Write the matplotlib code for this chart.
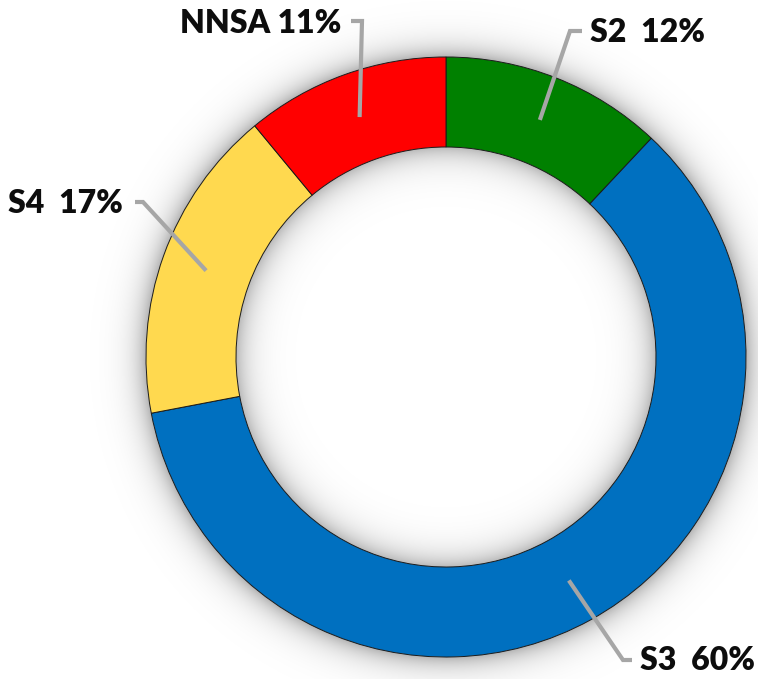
import numpy as np
import matplotlib
matplotlib.use("Agg")
import matplotlib.pyplot as plt

# ---- data ----
labels = ["S2", "S3", "S4", "NNSA"]
values = [12, 60, 17, 11]
label_texts = ["S2  12%", "S3  60%", "S4  17%", "NNSA 11%"]
colors = ["#008000", "#0070C0", "#FFD94F", "#FF0000"]

W, H = 758, 679
fig = plt.figure(figsize=(W / 100, H / 100), dpi=100)
ax = fig.add_axes([0, 0, 1, 1])

cx, cy = 446, H - 357
R, Rin = 300, 210

# soft shadow around ring
yy, xx = np.mgrid[0:H, 0:W]
r = np.hypot(xx + 0.5 - cx, (H - yy - 0.5) - cy)
alpha = np.zeros_like(r)
out = r > R
alpha[out] = 0.30 * np.exp(-(r[out] - R) / 13.0)
inn = r < Rin
alpha[inn] = 0.28 * np.exp(-(Rin - r[inn]) / 14.0)
img = np.zeros((H, W, 4))
img[..., 3] = alpha
ax.imshow(img, extent=[0, W, 0, H], origin="upper", zorder=0, interpolation="bilinear")

wedges, _ = ax.pie(values, colors=colors, startangle=90, counterclock=False,
                   radius=R, center=(cx, cy),
                   wedgeprops=dict(width=R - Rin, edgecolor="#1a1a1a", linewidth=0.7),
                   frame=True)
ax.set_xlim(0, W)
ax.set_ylim(0, H)
ax.set_aspect("equal")
ax.axis("off")

# leader lines: start at mid-angle, mid-radius of each wedge
rm = (R + Rin) / 2
elbows = {
    "S2": [(570, 31), (582, 31)],
    "S3": [(623, 660), (632, 660)],
    "S4": [(143, 202), (135, 202)],
    "NNSA": [(362, 21), (351, 21)],
}
text_pos = {
    "S2": (590, 33, "left"),
    "S3": (640, 661, "left"),
    "S4": (123, 203.5, "right"),
    "NNSA": (341, 23.5, "right"),
}
for w, lab, txt in zip(wedges, labels, label_texts):
    mid = np.deg2rad((w.theta1 + w.theta2) / 2)
    sx, sy = cx + rm * np.cos(mid), cy + rm * np.sin(mid)
    pts = [(sx, sy)] + [(px, H - py) for px, py in elbows[lab]]
    xs, ys = zip(*pts)
    ax.plot(xs, ys, color="#A6A6A6", lw=3.0, solid_capstyle="butt",
            solid_joinstyle="miter", zorder=5)
    tx, ty, ha = text_pos[lab]
    ax.text(tx, H - ty, txt, ha=ha, va="center", fontsize=23, fontweight="heavy",
            family=["Lato", "DejaVu Sans"], color="#0d0d0d", zorder=6)

fig.savefig("out.png", dpi=100)
